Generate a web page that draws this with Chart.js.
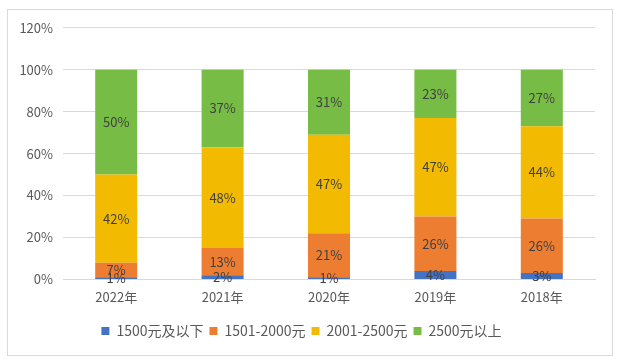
<!DOCTYPE html>
<html>
<head>
<meta charset="utf-8">
<script src="https://cdn.jsdelivr.net/npm/chart.js@4/dist/chart.umd.min.js"></script>
<style>
  body { margin: 0; background: #fff; }
  #box {
    position: absolute; left: 7px; top: 9px;
    width: 604px; height: 345px;
    border: 1px solid #d9d9d9;
  }
</style>
</head>
<body>
<div id="box"><canvas id="chart" width="604" height="345"></canvas></div>
<script>
const years = ['2022年', '2021年', '2020年', '2019年', '2018年'];
const seriesNames = ['1500元及以下', '1501-2000元', '2001-2500元', '2500元以上'];
const below1500 = [1, 2, 1, 4, 3];
const from1501 = [7, 13, 21, 26, 26];
const from2001 = [42, 48, 47, 47, 44];
const above2500 = [50, 37, 31, 23, 27];
const yTicks = [0, 20, 40, 60, 80, 100, 120];

const colors = ['#4472C4', '#ED7D31', '#F2BA00', '#77BD45'];
const FONT = '"Noto Sans CJK SC", "Noto Sans", sans-serif';

// 各セグメントの中央に値を描く
const valueLabels = {
  id: 'valueLabels',
  afterDatasetsDraw(chart) {
    const ctx = chart.ctx;
    ctx.save();
    ctx.font = '13px ' + FONT;
    ctx.fillStyle = '#404040';
    ctx.textAlign = 'center';
    ctx.textBaseline = 'middle';
    chart.data.datasets.forEach((ds, i) => {
      chart.getDatasetMeta(i).data.forEach((bar, j) => {
        const y = (bar.y + bar.base) / 2;
        ctx.fillText(ds.data[j] + '%', bar.x, y);
      });
    });
    ctx.restore();
  }
};

const allData = [below1500, from1501, from2001, above2500];

new Chart(document.getElementById('chart'), {
  type: 'bar',
  data: {
    labels: years,
    datasets: seriesNames.map((name, i) => ({
      label: name,
      data: allData[i],
      backgroundColor: colors[i],
      borderWidth: 0,
      barPercentage: 0.5,
      categoryPercentage: 0.79
    }))
  },
  options: {
    animation: false,
    responsive: false,
    layout: { padding: { top: 10, right: 17, left: 0, bottom: 7 } },
    scales: {
      x: {
        stacked: true,
        grid: { display: false },
        border: { color: '#d9d9d9' },
        afterFit: (scale) => { scale.height += 11; },
        ticks: { color: '#595959', font: { size: 13, family: FONT }, padding: 2 }
      },
      y: {
        stacked: true,
        min: 0,
        max: 120,
        afterBuildTicks: (scale) => { scale.ticks = yTicks.map(v => ({ value: v })); },
        afterFit: (scale) => { scale.width = 55; },
        grid: { color: '#d9d9d9', drawTicks: false },
        border: { display: false },
        ticks: {
          color: '#595959',
          font: { size: 13, family: FONT },
          padding: 10,
          callback: (v) => v + '%'
        }
      }
    },
    plugins: {
      legend: {
        position: 'bottom',
        labels: {
          boxWidth: 8,
          boxHeight: 8,
          color: '#595959',
          font: { size: 14, family: FONT },
          padding: 6
        }
      },
      tooltip: { enabled: false }
    }
  },
  plugins: [valueLabels]
});
</script>
</body>
</html>
